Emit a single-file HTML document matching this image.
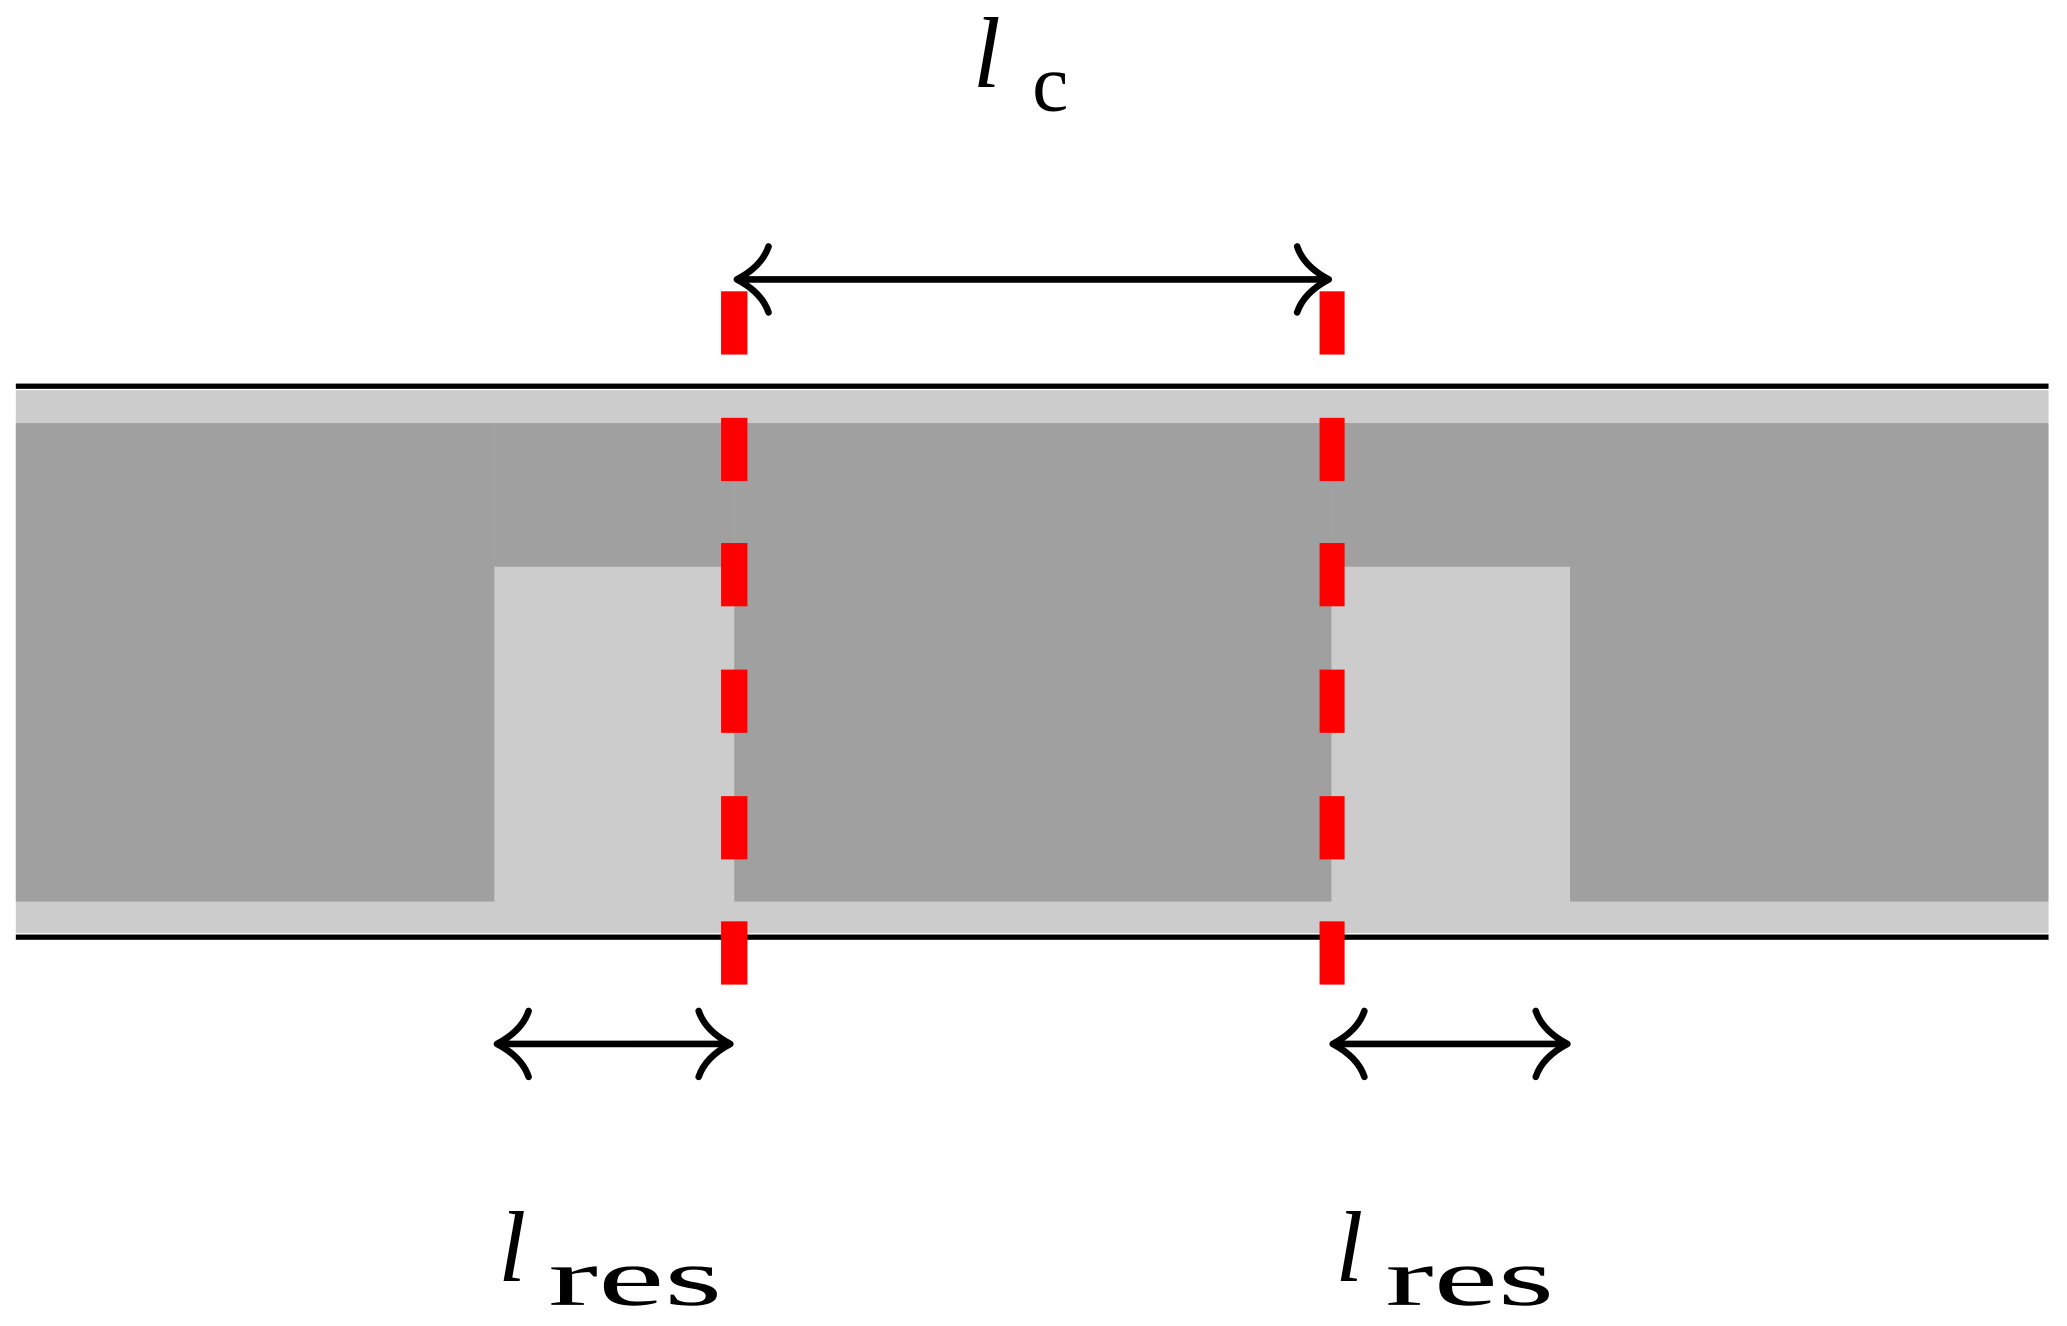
<!DOCTYPE html>
<html><head><meta charset="utf-8"><style>
html,body{margin:0;padding:0;background:#fff;}
svg{display:block;}
</style></head><body>
<svg width="2067" height="1326" viewBox="0 0 1568 1006" preserveAspectRatio="none" xmlns="http://www.w3.org/2000/svg">
<rect x="0" y="0" width="1568" height="1006" fill="#fff"/>
<rect x="12" y="296" width="1542" height="412" fill="#cccccc"/>
<rect x="12" y="321" width="363" height="363" fill="#a0a0a0"/>
<rect x="375" y="321" width="182" height="109" fill="#a0a0a0"/>
<rect x="557" y="321" width="453" height="363" fill="#a0a0a0"/>
<rect x="1010" y="321" width="181" height="109" fill="#a0a0a0"/>
<rect x="1191" y="321" width="363" height="363" fill="#a0a0a0"/>
<rect x="12" y="291" width="1542" height="4" fill="#000"/>
<rect x="12" y="709" width="1542" height="4" fill="#000"/>
<g fill="#ff0000">
<rect x="547" y="221" width="20" height="48"/><rect x="547" y="317" width="20" height="48"/><rect x="547" y="412" width="20" height="48"/><rect x="547" y="508" width="20" height="48"/><rect x="547" y="604" width="20" height="48"/><rect x="547" y="699" width="20" height="48"/>
<rect x="1001" y="221" width="19" height="48"/><rect x="1001" y="317" width="19" height="48"/><rect x="1001" y="412" width="19" height="48"/><rect x="1001" y="508" width="19" height="48"/><rect x="1001" y="604" width="19" height="48"/><rect x="1001" y="699" width="19" height="48"/>
</g>
<g stroke="#000" stroke-width="5" fill="none" stroke-linecap="round" stroke-linejoin="round">
<line x1="560" y1="212" x2="1007" y2="212"/>
<path d="M583,187 Q578,202 559,212 Q578,222 583,237"/>
<path d="M984,187 Q989,202 1008,212 Q989,222 984,237"/>
<line x1="380" y1="792" x2="553" y2="792"/>
<path d="M401,767 Q396,782 377,792 Q396,802 401,817"/>
<path d="M530,767 Q535,782 554,792 Q535,802 530,817"/>
<line x1="1014" y1="792" x2="1187" y2="792"/>
<path d="M1035,767 Q1030,782 1011,792 Q1030,802 1035,817"/>
<path d="M1165,767 Q1170,782 1189,792 Q1170,802 1165,817"/>
</g>
<g fill="#000" font-family="'Liberation Serif', serif">
<text x="738" y="66" font-size="76" font-style="italic">l</text>
<text x="783" y="84" font-size="62">c</text>
<text x="378" y="972" font-size="76" font-style="italic">l</text>
<text x="416" y="990" font-size="62" textLength="132" lengthAdjust="spacingAndGlyphs">res</text>
<text x="1013" y="972" font-size="76" font-style="italic">l</text>
<text x="1051" y="990" font-size="62" textLength="128" lengthAdjust="spacingAndGlyphs">res</text>
</g>
</svg>
</body></html>
